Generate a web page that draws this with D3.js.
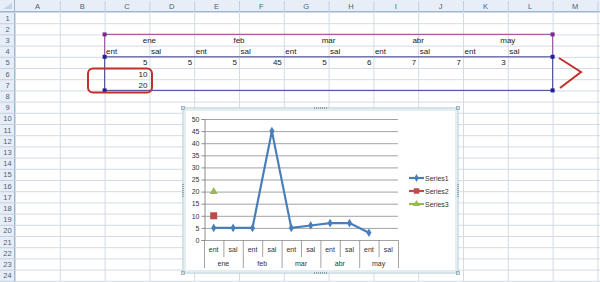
<!DOCTYPE html>
<html>
<head>
<meta charset="utf-8">
<script src="https://cdn.jsdelivr.net/npm/d3@7"></script>
<style>
  html, body { margin: 0; padding: 0; background: #fff; }
  svg { display: block; font-family: "Liberation Sans", Arial, sans-serif; }
</style>
</head>
<body>
<div id="sheet"></div>
<script>
// --- data ---
const colLetters = ["A","B","C","D","E","F","G","H","I","J","K","L","M"];
const rowNumbers = d3.range(1, 25);
const months = ["ene", "feb", "mar", "abr", "may"];
const subCats = ["ent", "sal"];
const series1 = [5, 5, 5, 45, 5, 6, 7, 7, 3, null];
const series2 = [10, null, null, null, null, null, null, null, null, null];
const series3 = [20, null, null, null, null, null, null, null, null, null];
const seriesNames = ["Series1", "Series2", "Series3"];
const seriesColors = ["#4a7ebb", "#be4b48", "#98b954"];
const yTicks = [0, 5, 10, 15, 20, 25, 30, 35, 40, 45, 50];

const W = 600, H = 282;
const svg = d3.select("#sheet").append("svg").attr("width", W).attr("height", H);

// --- worksheet grid ---
const headW = 15, headH = 12, colW = 44.8, rowH = 11.2;
const colX = d3.scaleLinear().domain([0, colLetters.length]).range([headW, headW + colLetters.length * colW]);
const rowY = d3.scaleLinear().domain([1, 25]).range([headH, headH + 24 * rowH]);

const grid = svg.append("g");
grid.selectAll(".vl").data(d3.range(colLetters.length + 1)).enter().append("line")
  .attr("x1", d => colX(d) + 0.5).attr("x2", d => colX(d) + 0.5)
  .attr("y1", headH).attr("y2", H).attr("stroke", "#d4dbe6");
grid.selectAll(".hl").data(d3.range(1, 26)).enter().append("line")
  .attr("x1", headW).attr("x2", W)
  .attr("y1", d => rowY(d) + 0.5).attr("y2", d => rowY(d) + 0.5).attr("stroke", "#d4dbe6");

// headers
const hdr = svg.append("g");
hdr.append("rect").attr("x", 0).attr("y", 0).attr("width", W).attr("height", headH).attr("fill", "#e8eef7");
hdr.append("rect").attr("x", 0).attr("y", 0).attr("width", headW).attr("height", H).attr("fill", "#e8eef7");
hdr.append("line").attr("x1", 0).attr("x2", W).attr("y1", headH - 0.5).attr("y2", headH - 0.5).attr("stroke", "#9eb6ce");
hdr.append("line").attr("x1", headW - 0.5).attr("x2", headW - 0.5).attr("y1", 0).attr("y2", H).attr("stroke", "#9eb6ce");
hdr.append("path").attr("d", `M${headW - 3},3 L${headW - 3},${headH - 3} L3,${headH - 3} Z`).attr("fill", "#c5d3e6");
hdr.selectAll(".cs").data(d3.range(1, colLetters.length + 1)).enter().append("line")
  .attr("x1", d => colX(d) + 0.5).attr("x2", d => colX(d) + 0.5)
  .attr("y1", 1).attr("y2", headH).attr("stroke", "#c2cfe0");
hdr.selectAll(".rs").data(d3.range(1, 26)).enter().append("line")
  .attr("x1", 0).attr("x2", headW)
  .attr("y1", d => rowY(d) + 0.5).attr("y2", d => rowY(d) + 0.5).attr("stroke", "#c2cfe0");
hdr.selectAll(".ct").data(colLetters).enter().append("text")
  .attr("x", (d, i) => colX(i + 0.5)).attr("y", headH / 2 + 3)
  .attr("text-anchor", "middle").attr("font-size", 7.5).attr("fill", "#4c5f74").text(d => d);
hdr.selectAll(".rt").data(rowNumbers).enter().append("text")
  .attr("x", headW / 2).attr("y", d => rowY(d + 0.5) + 3)
  .attr("text-anchor", "middle").attr("font-size", 7.5).attr("fill", "#4c5f74").text(d => d);

// cell contents (columns C..L = index 2..11)
const cells = svg.append("g").attr("font-size", 8).attr("fill", "#222");
cells.selectAll(".m").data(months).enter().append("text")
  .attr("x", (d, i) => colX(2 + i * 2 + 1)).attr("y", rowY(3.5) + 3)
  .attr("text-anchor", "middle").text(d => d);
const subLabels = months.flatMap(() => subCats);
cells.selectAll(".s").data(subLabels).enter().append("text")
  .attr("x", (d, i) => colX(2 + i) + 1.5).attr("y", rowY(4.5) + 3).text(d => d);
[series1, series2, series3].forEach((vals, r) => {
  cells.selectAll(".v" + r).data(vals).enter().append("text")
    .attr("x", (d, i) => colX(3 + i) - 2).attr("y", rowY(5.5 + r) + 3)
    .attr("text-anchor", "end").text(d => d == null ? "" : d);
});

// range selection outlines
const sel = svg.append("g").attr("fill", "none");
const x0 = colX(2), x1 = colX(12);
sel.append("path").attr("d", `M${x0},${rowY(5)} L${x0},${rowY(3)} L${x1},${rowY(3)} L${x1},${rowY(5)}`)
  .attr("stroke", "#a15fa8").attr("stroke-width", 1.2);
sel.append("rect").attr("x", x0).attr("y", rowY(5)).attr("width", x1 - x0).attr("height", rowY(8) - rowY(5))
  .attr("stroke", "#5a5aa0").attr("stroke-width", 1.2);
[[x0, rowY(3)], [x1, rowY(3)], [x0, rowY(5)], [x1, rowY(5)], [x0, rowY(8)], [x1, rowY(8)]].forEach(([hx, hy], i) => {
  sel.append("rect").attr("x", hx - 2).attr("y", hy - 2).attr("width", 4).attr("height", 4)
    .attr("fill", i < 2 ? "#7a2a8a" : "#1f1f9a");
});

// red annotations
const ann = svg.append("g").attr("fill", "none").attr("stroke", "#c0302b").attr("stroke-width", 2);
ann.append("rect").attr("x", 88).attr("y", 68.5).attr("width", 64).attr("height", 24).attr("rx", 5);
ann.append("path").attr("d", "M559,58 L581,72 L560,88").attr("stroke-linejoin", "miter");

// --- chart object ---
const cL = 183, cT = 108, cR = 458, cB = 273;
const chart = svg.append("g");
chart.append("rect").attr("x", cL).attr("y", cT).attr("width", cR - cL).attr("height", cB - cT)
  .attr("fill", "#fff").attr("stroke", "#a9c8d2").attr("stroke-width", 1);
chart.append("rect").attr("x", cL + 2).attr("y", cT + 2).attr("width", cR - cL - 4).attr("height", cB - cT - 4)
  .attr("fill", "none").attr("stroke", "#c9dde3").attr("stroke-width", 1);
// sizing handles
const handles = [[(cL + cR) / 2, cT, "h"], [(cL + cR) / 2, cB, "h"], [cL, (cT + cB) / 2, "v"], [cR, (cT + cB) / 2, "v"]];
handles.forEach(([hx, hy, o]) => {
  d3.range(-3, 4).forEach(k => {
    chart.append("rect")
      .attr("x", o === "h" ? hx + k * 2 - 0.5 : hx - 1).attr("y", o === "h" ? hy - 1 : hy + k * 2 - 0.5)
      .attr("width", o === "h" ? 1 : 2).attr("height", o === "h" ? 2 : 1).attr("fill", "#8aa9b4");
  });
});
[[cL, cT], [cR, cT], [cL, cB], [cR, cB]].forEach(([hx, hy]) => {
  chart.append("rect").attr("x", hx - 1.5).attr("y", hy - 1.5).attr("width", 3).attr("height", 3)
    .attr("fill", "none").attr("stroke", "#8aa9b4").attr("stroke-width", 0.8);
});

const pL = 204, pR = 398, pT = 119, pB = 240;
const x = d3.scaleBand().domain(d3.range(series1.length)).range([pL, pR]);
const y = d3.scaleLinear().domain([0, 50]).range([pB, pT]);

// gridlines
chart.selectAll(".g").data(yTicks).enter().append("line")
  .attr("x1", pL).attr("x2", pR).attr("y1", d => y(d) + 0.5).attr("y2", d => y(d) + 0.5)
  .attr("stroke", "#8c8c8c").attr("stroke-width", 0.8);

// value axis
const yAxis = chart.append("g").attr("transform", `translate(${pL + 0.5},0)`)
  .call(d3.axisLeft(y).tickValues(yTicks).tickSize(3).tickPadding(2));
yAxis.select(".domain").attr("stroke", "#8c8c8c");
yAxis.selectAll(".tick line").attr("stroke", "#8c8c8c");
yAxis.selectAll("text").attr("font-size", 7).attr("fill", "#333").attr("font-family", "Liberation Sans, Arial, sans-serif");

// multi-level category axis
const cat = chart.append("g").attr("stroke", "#8c8c8c").attr("stroke-width", 0.8);
cat.selectAll(".it").data(d3.range(series1.length + 1)).enter().append("line")
  .attr("x1", d => (d < series1.length ? x(d) : pR) + 0.5).attr("x2", d => (d < series1.length ? x(d) : pR) + 0.5)
  .attr("y1", pB).attr("y2", d => d % 2 === 0 ? 268 : 257);
chart.selectAll(".sl").data(subLabels).enter().append("text")
  .attr("x", (d, i) => x(i) + x.bandwidth() / 2).attr("y", 252)
  .attr("text-anchor", "middle").attr("font-size", 7).attr("fill", "#333").text(d => d);
chart.selectAll(".ml").data(months).enter().append("text")
  .attr("x", (d, i) => x(i * 2) + x.bandwidth()).attr("y", 266)
  .attr("text-anchor", "middle").attr("font-size", 7).attr("fill", "#333").text(d => d);

// series
const line = d3.line().defined(d => d != null).x((d, i) => x(i) + x.bandwidth() / 2).y(d => y(d));
chart.append("path").datum(series1).attr("d", line).attr("fill", "none")
  .attr("stroke", seriesColors[0]).attr("stroke-width", 2.2).attr("stroke-linejoin", "round");
chart.selectAll(".p1").data(series1.map((v, i) => [v, i]).filter(d => d[0] != null)).enter()
  .append("path").attr("d", d3.symbol(d3.symbolDiamond, 22))
  .attr("transform", d => `translate(${x(d[1]) + x.bandwidth() / 2},${y(d[0])})`).attr("fill", seriesColors[0]);
chart.selectAll(".p2").data(series2.map((v, i) => [v, i]).filter(d => d[0] != null)).enter()
  .append("rect").attr("x", d => x(d[1]) + x.bandwidth() / 2 - 3.5).attr("y", d => y(d[0]) - 3.5)
  .attr("width", 7).attr("height", 7).attr("fill", seriesColors[1]);
chart.selectAll(".p3").data(series3.map((v, i) => [v, i]).filter(d => d[0] != null)).enter()
  .append("path").attr("d", d3.symbol(d3.symbolTriangle, 28))
  .attr("transform", d => `translate(${x(d[1]) + x.bandwidth() / 2},${y(d[0])})`).attr("fill", seriesColors[2]);

// legend
const leg = chart.append("g");
seriesNames.forEach((name, i) => {
  const ly = 178 + i * 13;
  leg.append("line").attr("x1", 409).attr("x2", 424).attr("y1", ly).attr("y2", ly)
    .attr("stroke", seriesColors[i]).attr("stroke-width", 2.2);
  const sym = i === 0 ? d3.symbol(d3.symbolDiamond, 18) : i === 1 ? d3.symbol(d3.symbolSquare, 30) : d3.symbol(d3.symbolTriangle, 22);
  leg.append("path").attr("d", sym).attr("transform", `translate(416.5,${ly})`).attr("fill", seriesColors[i]);
  leg.append("text").attr("x", 425).attr("y", ly + 2.5).attr("font-size", 7).attr("fill", "#333").text(name);
});
</script>
</body>
</html>
